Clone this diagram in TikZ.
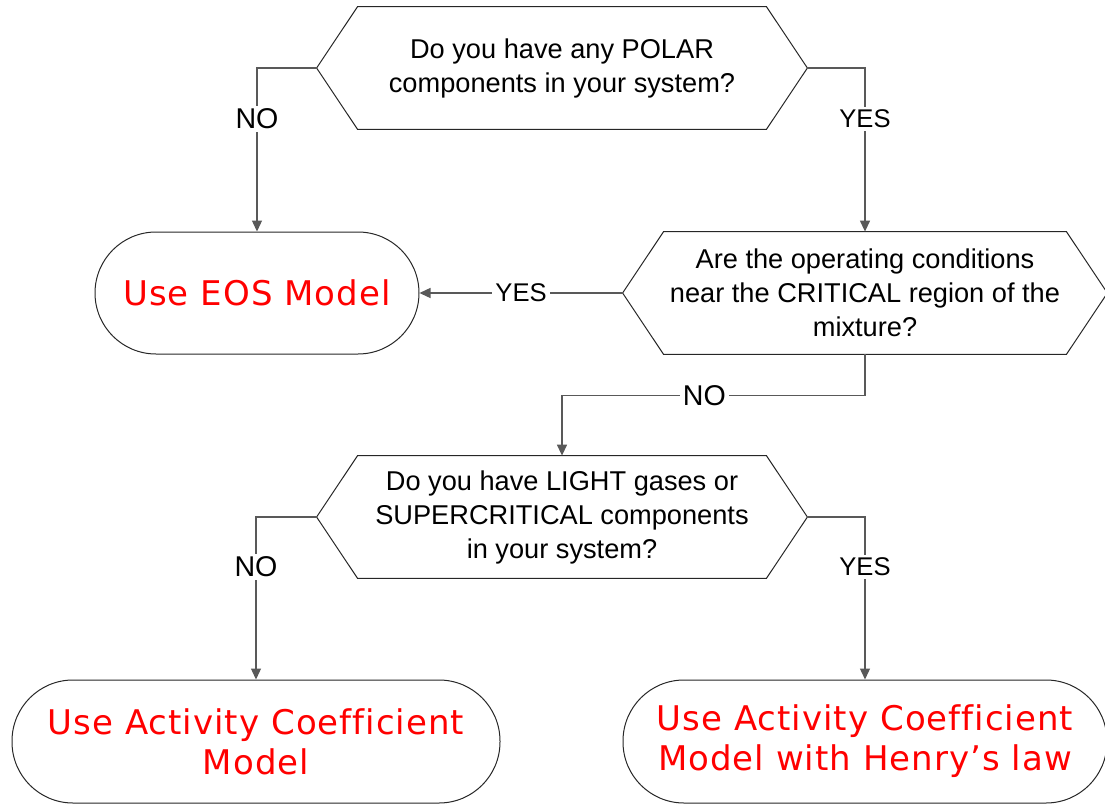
\documentclass[tikz,border=0pt]{standalone}
\usepackage{fontspec}
\setmainfont{Liberation Sans}
\newfontfamily\redfont[LetterSpace=3,Ligatures=NoCommon]{DejaVu Sans}
\usetikzlibrary{arrows.meta,calc}
\tikzset{
  qbox/.style={draw=none, minimum width=245pt, minimum height=61pt, inner sep=0pt, align=center,
    font=\fontsize{13.6pt}{17pt}\selectfont},
  term/.style={draw=black!85, line width=0.5pt, rounded corners=30.5pt, minimum height=61pt, inner sep=0pt,
    align=center, text=red, font=\redfont\fontsize{17pt}{20pt}\selectfont},
  hexline/.style={draw=black!85, line width=0.5pt},
  conn/.style={draw=black!65, line width=0.65pt, -{Triangle[length=5.5pt,width=5pt]}},
  lbl/.style={fill=white, inner sep=1.5pt, text=black, font=\fontsize{14.3pt}{17pt}\selectfont},
  lbly/.style={fill=white, inner sep=1.5pt, text=black, font=\fontsize{12.8pt}{15pt}\selectfont},
}
\newcommand{\hexof}[1]{%
  \draw[hexline] (#1.west) -- ($(#1.north west)+(41,0)$) -- ($(#1.north east)+(-41,0)$) -- (#1.east)
    -- ($(#1.south east)+(-41,0)$) -- ($(#1.south west)+(41,0)$) -- cycle;}
\begin{document}
\begin{tikzpicture}[x=0.5pt,y=-0.5pt]
\useasboundingbox (0,0) rectangle (1105,804);
% decisions
\node[qbox] (h1) at (562,68) {Do you have any POLAR\\components in your system?};
\node[qbox, minimum width=242pt] (h2) at (865,293) {Are the operating conditions\\near the CRITICAL region of the\\mixture?};
\node[qbox] (h3) at (562,517) {Do you have LIGHT gases or\\SUPERCRITICAL components\\in your system?};
\hexof{h1}
\hexof{h2}
\hexof{h3}
% terminals
\node[term, minimum width=162pt] (t1) at (257,293) {Use EOS Model};
\node[term, minimum width=244pt, minimum height=61.5pt] (t2) at (256,741.5) {Use Activity Coefficient\\Model};
\node[term, minimum width=242pt, minimum height=61.5pt] (t3) at (865,741.5) {Use Activity Coefficient\\Model with Henry’s law};
% connectors
\draw[conn] (h1.west) -| (t1.north) node[lbl, pos=0.655] (l1) {NO};
\draw[conn] (h1.east) -| (h2.north) node[lbly, pos=0.655] (l2) {YES};
\draw[conn] (h2.west) -- (t1.east) node[lbly, pos=0.5] (l3) {YES};
\coordinate (c1) at ($(h2.south)+(0,41)$);
\draw[conn] (h2.south) -- (c1) -| (h3.north) node[lbl, pos=0.265] (l4) {NO};
\draw[conn] (h3.west) -| (t2.north) node[lbl, pos=0.653] (l5) {NO};
\draw[conn] (h3.east) -| (t3.north) node[lbly, pos=0.653] (l6) {YES};
\end{tikzpicture}
\end{document}
